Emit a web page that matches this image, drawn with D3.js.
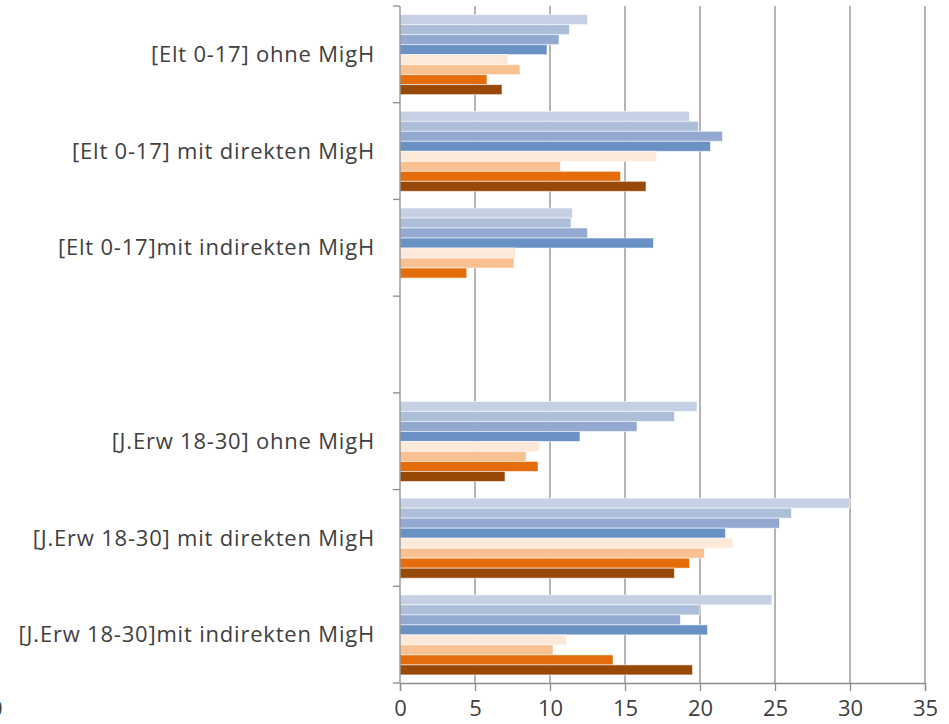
<!DOCTYPE html>
<html><head><meta charset="utf-8">
<script src="https://cdn.jsdelivr.net/npm/d3@7"></script>
<style>
html,body{margin:0;padding:0;background:#fff;}
svg{display:block;font-family:"Open Sans","Lato",sans-serif;}
</style></head>
<body><svg id="c" width="949" height="724"></svg>
<script>
const categories = [
  "[Elt 0-17] ohne MigH",
  "[Elt 0-17] mit direkten MigH",
  "[Elt 0-17]mit indirekten MigH",
  "",
  "[J.Erw 18-30] ohne MigH",
  "[J.Erw 18-30] mit direkten MigH",
  "[J.Erw 18-30]mit indirekten MigH"
];
const seriesNames = ["Reihe 1","Reihe 2","Reihe 3","Reihe 4","Reihe 5","Reihe 6","Reihe 7","Reihe 8"];
const seriesColors = ["#c6d0e4","#adbed9","#93a9d1","#6a91c4","#fde9da","#f9c192","#e46c0a","#984807"];
const s1 = [12.5, 19.3, 11.5, null, 19.8, 30.0, 24.8];
const s2 = [11.3, 19.9, 11.4, null, 18.3, 26.1, 20.0];
const s3 = [10.6, 21.5, 12.5, null, 15.8, 25.3, 18.7];
const s4 = [ 9.8, 20.7, 16.9, null, 12.0, 21.7, 20.5];
const s5 = [ 7.2, 17.1,  7.7, null,  9.3, 22.2, 11.1];
const s6 = [ 8.0, 10.7,  7.6, null,  8.4, 20.3, 10.2];
const s7 = [ 5.8, 14.7,  4.45, null, 9.2, 19.3, 14.2];
const s8 = [ 6.8, 16.4, null, null,  7.0, 18.3, 19.5];
const xTicks = [0,5,10,15,20,25,30,35];

const seriesValues = [s1,s2,s3,s4,s5,s6,s7,s8];
const svg = d3.select("#c");
const x = d3.scaleLinear().domain([0,35]).range([400,925]);
const keys = categories.map((c,i)=>"k"+i);
const y = d3.scaleBand().domain(keys).range([6,683]).paddingInner(0).paddingOuter(0);
const yi = d3.scaleBand().domain(seriesNames).range([8.6, y.bandwidth()-8.1]).padding(0);

// gridlines
svg.append("g").selectAll("line").data(xTicks.slice(1)).join("line")
  .attr("x1",d=>x(d)).attr("x2",d=>x(d)).attr("y1",6).attr("y2",683)
  .attr("stroke","#8c8c8c").attr("stroke-width",1.3);

// bars
const gBars = svg.append("g");
keys.forEach((k,ci)=>{
  const g = gBars.append("g").attr("transform",`translate(0,${y(k)})`);
  seriesNames.forEach((s,si)=>{
    const v = seriesValues[si][ci];
    if (v==null) return;
    g.append("rect").attr("x",x(0)).attr("y",yi(s))
      .attr("width",x(v)-x(0)).attr("height",yi.bandwidth())
      .attr("fill",seriesColors[si])
      .attr("stroke","#ffffff").attr("stroke-opacity",0.55).attr("stroke-width",1);
  });
});

// left axis
const yAxis = svg.append("g");
yAxis.append("line").attr("x1",400).attr("x2",400).attr("y1",6).attr("y2",683)
  .attr("stroke","#8c8c8c").attr("stroke-width",1.3);
const bounds = keys.map(k=>y(k)).concat([683]);
yAxis.selectAll("line.t").data(bounds).join("line").attr("class","t")
  .attr("x1",393).attr("x2",400).attr("y1",d=>d).attr("y2",d=>d)
  .attr("stroke","#8c8c8c").attr("stroke-width",1.3);
yAxis.selectAll("text").data(categories).join("text")
  .attr("x",375).attr("y",(d,i)=>y(keys[i])+y.bandwidth()/2)
  .attr("dy","0.35em").attr("text-anchor","end")
  .attr("font-size",22).attr("letter-spacing",0.8).attr("fill","#404040").text(d=>d);

// bottom axis
const xAxis = svg.append("g").attr("transform","translate(0,683)")
  .call(d3.axisBottom(x).tickValues(xTicks).tickSize(8).tickPadding(9).tickFormat(d3.format("d")));
xAxis.select(".domain").attr("stroke","#8c8c8c").attr("stroke-width",1.3);
xAxis.selectAll(".tick line").attr("stroke","#8c8c8c").attr("stroke-width",1.3);
xAxis.selectAll(".tick text").attr("font-size",22).attr("fill","#404040")
  .attr("font-family","'Open Sans',sans-serif");

// clipped label fragment at left edge (as in the reference)
svg.append("text").attr("x",-10).attr("y",716).attr("font-size",22).attr("fill","#404040").text("0");
</script></body></html>
